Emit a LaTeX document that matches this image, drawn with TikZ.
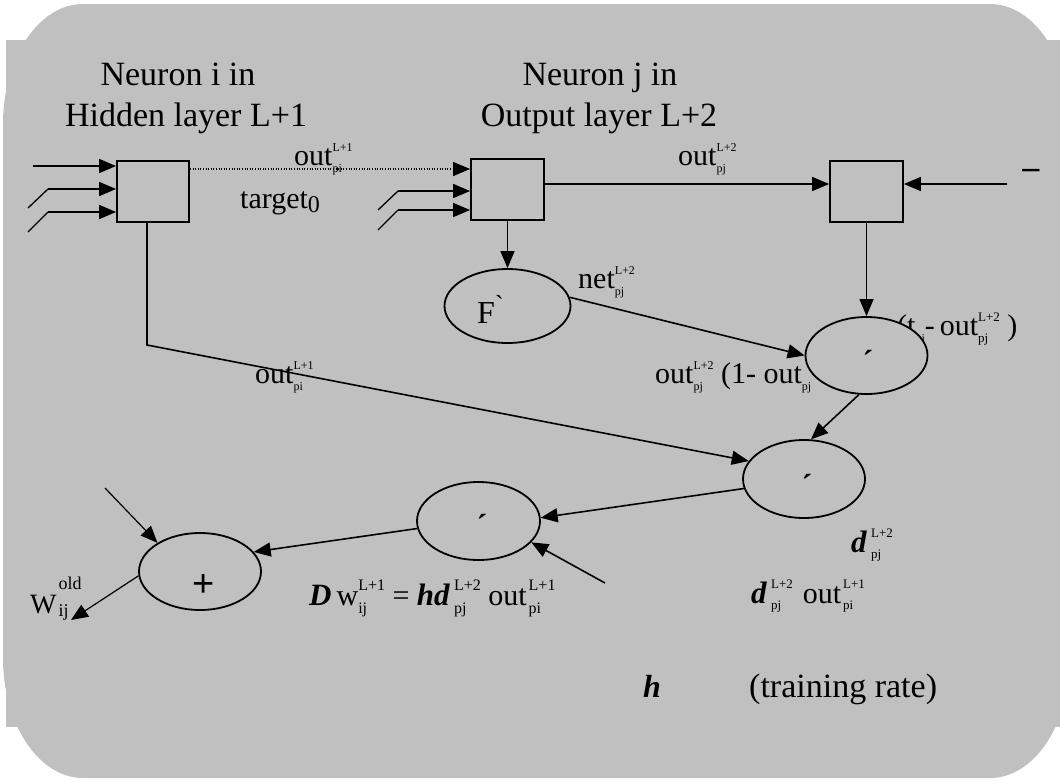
\documentclass[tikz,border=0pt]{standalone}
\usepackage{fontspec}
\setmainfont{Liberation Serif}
\newfontfamily\sansf{Liberation Sans}
\usetikzlibrary{arrows.meta,shapes.geometric}
\definecolor{bg}{HTML}{C0C0C0}
\newcommand\fs[1]{\fontsize{#1}{#1}\selectfont}
\newcommand\SupSub[5]{{\fs{#1}%
  \setbox0=\hbox{#4}\setbox2=\hbox{#5}%
  \dimen0=\wd0 \ifdim\wd2>\dimen0 \dimen0=\wd2 \fi
  \rlap{\raisebox{#2}{\box0}}\rlap{\raisebox{-#3}{\box2}}\hspace*{\dimen0}}}
\begin{document}
\begin{tikzpicture}[x=1pt,y=-1pt,
  box/.style={draw,line width=1.8pt,minimum width=72pt,minimum height=61pt,inner sep=0},
  ell/.style={ellipse,draw,line width=1.8pt,fill=bg,inner sep=0},
  tip/.style={-{Triangle[length=17pt,width=14pt]}},
  arr/.style={line width=1.6pt,tip},
  tarr/.style={line width=1.2pt,tip},
  dotarr/.style={line width=1.1pt,dash pattern=on 1pt off 1.6pt,tip},
  ln/.style={line width=1.3pt},
  txt/.style={inner sep=0,anchor=base west},
  ttl/.style={inner sep=0,anchor=base,font=\fs{34}},
]
\useasboundingbox (0,0) rectangle (1060,780);
\begin{scope}
  \clip (0,0) rectangle (1060,780);
  \fill[bg] (83,4) -- (990,4) .. controls (1034.2,4) and (1070,57.8) .. (1070,124)
    -- (1070,658) .. controls (1070,724.2) and (1034.2,778) .. (990,778)
    -- (83,778) .. controls (38.8,778) and (3,724.2) .. (3,658)
    -- (3,124) .. controls (3,57.8) and (38.8,4) .. (83,4) -- cycle;
  \fill[bg] (6,40) rectangle (1060,727);
\end{scope}

% titles
\node[ttl] (t1a) at (178,85) {Neuron i in};
\node[ttl] (t1b) at (186,126) {Hidden layer L+1};
\node[ttl] (t2a) at (600,85) {Neuron j in};
\node[ttl] (t2b) at (599,126) {Output layer L+2};

% boxes
\node[box] (b1) at (153,191.5) {};
\node[box,minimum width=73pt] (b2) at (507.5,189.5) {};
\node[box,minimum width=73pt] (b3) at (866.5,191.5) {};

% inputs to b1
\coordinate (p1) at (33,166);
\draw[arr] (p1) -- (p1 -| b1.west);
\coordinate (p2) at (28,208); \coordinate (q2) at (48,189);
\draw[ln] (p2) -- (q2);
\draw[arr] (q2) -- (q2 -| b1.west);
\coordinate (p3) at (28,232); \coordinate (q3) at (48,212);
\draw[ln] (p3) -- (q3);
\draw[arr] (q3) -- (q3 -| b1.west);

% inputs to b2
\coordinate (p4) at (378,210); \coordinate (q4) at (398,191);
\draw[ln] (p4) -- (q4);
\draw[arr] (q4) -- (q4 -| b2.west);
\coordinate (p5) at (378,230); \coordinate (q5) at (398,210);
\draw[ln] (p5) -- (q5);
\draw[arr] (q5) -- (q5 -| b2.west);

% b1 -> b2 dotted
\coordinate (d1) at (189,169);
\draw[dotarr] (b1.east |- d1) -- (b2.west |- d1);
\node[txt] (L1) at (294,165) {\fs{30}out\SupSub{12}{14pt}{7pt}{L+1}{pi}};
\node[txt] (tg) at (240,208) {\fs{30}target\raisebox{-4pt}{\fs{24}0}};

% b2 -> b3
\coordinate (d2) at (700,184);
\draw[arr] (b2.east |- d2) -- (b3.west |- d2);
\node[txt] (L2) at (678,165) {\fs{30}out\SupSub{12}{14pt}{7pt}{L+2}{pj}};

% right input
\coordinate (r1) at (1007,184);
\draw[arr] (r1) -- (r1 -| b3.east);
\node[inner sep=0,anchor=base] (dash) at (1031,178) {\fs{34}\textbf{–}};

% texts covered partly by ellipse m1
\node[txt] (tp) at (897,335) {\fs{30}(t\SupSub{12}{14pt}{7pt}{}{pj}-\,out\SupSub{13}{14pt}{7pt}{L+2}{pj} )};
\node[txt] (op) at (655,383) {\fs{30}out\SupSub{12}{14pt}{7pt}{L+2}{pj} (1- out\SupSub{12}{14pt}{7pt}{}{pj}};

% ellipses
\node[ell,minimum width=126pt,minimum height=74pt] (F) at (507.5,306) {};
\node[txt] (Ft) at (477,323) {\fs{32}F\raisebox{10pt}{\fs{26}\textasciigrave}};
\node[ell,minimum width=122pt,minimum height=77pt] (m1) at (866.5,355.5) {};
\node[ell,minimum width=122pt,minimum height=78pt] (m2) at (804,479) {};
\node[ell,minimum width=123pt,minimum height=78pt] (m3) at (478.5,521) {};
\node[ell,minimum width=122pt,minimum height=77pt] (m4) at (200,571.5) {};
\node[inner sep=0] (k1) at (868,361) {\fs{32}\textbf{\textasciiacute}};
\node[inner sep=0] (k2) at (807,485) {\fs{32}\textbf{\textasciiacute}};
\node[inner sep=0] (k3) at (482,525) {\fs{32}\textbf{\textasciiacute}};
\node[inner sep=0] (plus) at (204,586) {\sansf\fs{38}+};

% connectors
\draw[arr] (b2.south) -- (F.north);
\draw[tarr] (b3.south) -- (m1.north);
\draw[arr] (F.8) -- (m1.west);
\node[txt] (nt) at (578,288) {\fs{30}net\SupSub{12}{14pt}{7pt}{L+2}{pj}};

\coordinate (c1) at (147,345);
\draw[arr] (c1 |- b1.south) -- (c1) -- (m2.162);
\node[txt] (L3) at (255,383) {\fs{30}out\SupSub{12}{14pt}{7pt}{L+1}{pi}};

\draw[arr] (m1.259) -- (m2.80);
\draw[arr] (m2.189) -- (m3.3);
\coordinate (e1) at (605,583);
\draw[arr] (e1) -- (m3.338);
\draw[arr] (m3.187) -- (m4.20);
\coordinate (e2) at (105,488);
\draw[tarr] (e2) -- (m4.146);
\coordinate (e3) at (71,620);
\draw[tarr] (m4.184) -- (e3);

% formulas
\node[txt] (w) at (30,613) {\fs{28}W\hspace{2pt}\SupSub{18}{24pt}{3pt}{old}{ij}};
\node[txt] (eq) at (309,605) {\fs{30}{\fs{31}\textbf{\textit{D}}}\,w\SupSub{16}{15pt}{8pt}{L+1}{ij} = {\fs{31}\textbf{\textit{hd}}}\hspace{4pt}\SupSub{16}{15pt}{8pt}{L+2}{pj}\ out\hspace{2pt}\SupSub{16}{15pt}{8pt}{L+1}{pi}};
\node[txt] (dl) at (851,552) {\fs{31}\textbf{\textit{d}}\hspace{4pt}\SupSub{13}{15pt}{6pt}{L+2}{pj}};
\node[txt] (dout) at (751,603) {\fs{31}\textbf{\textit{d}}\hspace{4pt}\SupSub{13}{15pt}{6pt}{L+2}{pj}\hspace{10pt}{\fs{30}out}\hspace{2pt}\SupSub{13}{15pt}{6pt}{L+1}{pi}};
\node[txt] (h) at (643,697) {\fs{32}\textbf{\textit{h}}};
\node[txt] (tr) at (749,697) {\fs{34}(training rate)};
\end{tikzpicture}
\end{document}
